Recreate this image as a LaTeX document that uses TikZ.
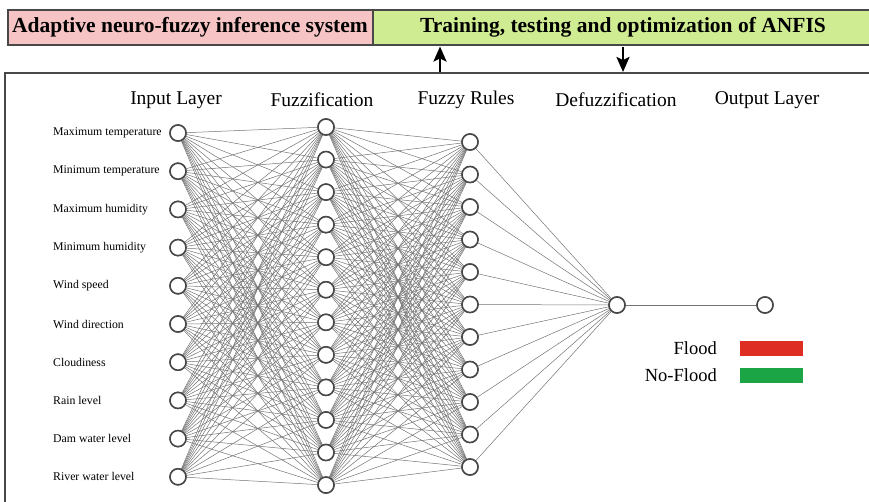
\documentclass[tikz,border=0pt]{standalone}
\usepackage{fontspec}
\setmainfont{Liberation Serif}
\usetikzlibrary{arrows.meta}
\definecolor{bandpink}{RGB}{246,196,196}
\definecolor{bandgreen}{RGB}{208,236,146}
\definecolor{framegray}{RGB}{72,72,72}
\definecolor{floodred}{RGB}{222,45,35}
\definecolor{nofloodgreen}{RGB}{28,165,68}
\begin{document}
\begin{tikzpicture}[x=1pt,y=-1pt,
  neuron/.style={circle, draw=black!72, line width=1.5pt, fill=white,
    minimum size=16pt, inner sep=0pt},
  link/.style={draw=black!55, line width=0.5pt},
  band/.style={draw=framegray, line width=2.6pt},
  bandtext/.style={font=\bfseries\fontsize{21.5}{24}\selectfont, inner sep=0pt},
  header/.style={font=\fontsize{19.5}{22}\selectfont, inner sep=0pt},
  feature/.style={font=\fontsize{11.8}{14}\selectfont, anchor=west, inner sep=0pt},
  legendtext/.style={font=\fontsize{18.5}{21}\selectfont, anchor=east, inner sep=0pt},
  flow/.style={line width=2.4pt, -{Stealth[length=15pt,width=13pt,inset=3pt]}}
]
\useasboundingbox (0,0) rectangle (869,501);

% --- top band ---
\draw[band, fill=bandpink] (8,10) rectangle (373,45);
\draw[band, fill=bandgreen] (373,10) rectangle (885,45);
\node[bandtext] (anfis) at (190,27.5) {Adaptive neuro-fuzzy inference system};
\node[bandtext] (train) at (623,27.5) {Training, testing and optimization of ANFIS};

% --- outer frame of the network panel ---
\draw[band, line width=2.2pt] (5,520) -- (5,73) -- (885,73);

% --- feedback arrows between the panel and the band ---
\coordinate (upfoot) at (440,72);
\coordinate (uphead) at (440,46.5);
\coordinate (downfoot) at (623,46.5);
\coordinate (downhead) at (623,72);
\draw[flow] (upfoot) -- (uphead);
\draw[flow] (downfoot) -- (downhead);

% --- layer headings ---
\node[header] (hin)   at (176,100) {Input Layer};
\node[header] (hfuz)  at (322,100) {Fuzzification};
\node[header] (hrule) at (466,100) {Fuzzy Rules};
\node[header] (hdef)  at (616,100) {Defuzzification};
\node[header] (hout)  at (767,100) {Output Layer};

% --- neurons ---
\foreach \k in {1,...,10}
  \node[neuron] (i\k) at (178,{133+(\k-1)*38.2}) {};
\foreach \k in {1,...,12}
  \node[neuron] (f\k) at (326,{127+(\k-1)*32.55}) {};
\foreach \k in {1,...,11}
  \node[neuron] (r\k) at (470,{142+(\k-1)*32.5}) {};
\node[neuron] (d) at (617,305) {};
\node[neuron] (o) at (765,305) {};

% --- connections ---
\foreach \a in {1,...,10}
  \foreach \b in {1,...,12}
    \draw[link] (i\a) -- (f\b);
\foreach \a in {1,...,12}
  \foreach \b in {1,...,11}
    \draw[link] (f\a) -- (r\b);
\foreach \a in {1,...,11}
  \draw[link] (r\a) -- (d);
\draw[link, line width=0.7pt] (d) -- (o);

% redraw neurons on top of the links
\foreach \k in {1,...,10}
  \node[neuron] at (i\k) {};
\foreach \k in {1,...,12}
  \node[neuron] at (f\k) {};
\foreach \k in {1,...,11}
  \node[neuron] at (r\k) {};
\node[neuron] at (d) {};
\node[neuron] at (o) {};

% --- input feature labels ---
\foreach \t [count=\k] in {Maximum temperature, Minimum temperature,
    Maximum humidity, Minimum humidity, Wind speed, Wind direction,
    Cloudiness, Rain level, Dam water level, River water level}
  \node[feature] (lab\k) at (53,{133+(\k-1)*38.2}) {\t};

% --- legend ---
\node[legendtext] (lflood) at (717,348) {Flood};
\node[legendtext] (lnoflood) at (717,375.5) {No-Flood};
\fill[floodred] (740,341) rectangle (803,356);
\fill[nofloodgreen] (740,368) rectangle (803,383);
\end{tikzpicture}
\end{document}
